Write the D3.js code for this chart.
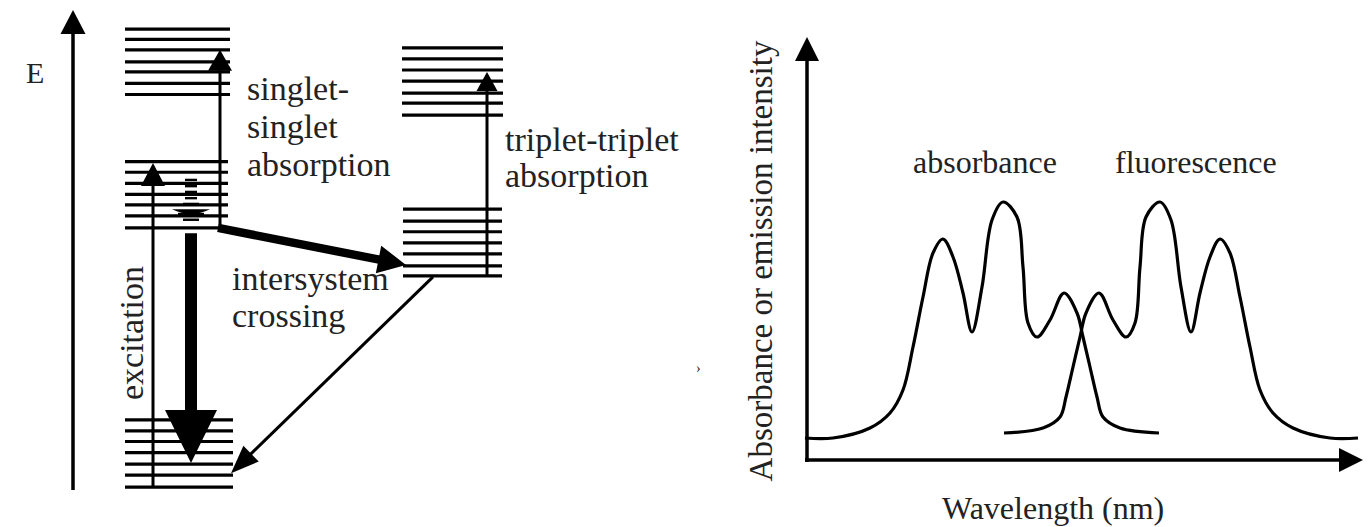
<!DOCTYPE html>
<html>
<head>
<meta charset="utf-8">
<script src="https://cdn.jsdelivr.net/npm/d3@7"></script>
<style>
  body { margin: 0; background: #fff; }
  svg { display: block; }
</style>
</head>
<body>
<div id="chart"></div>
<script>
// ---- Jablonski diagram: energy levels (arbitrary energy units, 0 = foot of the E axis)
var s0Levels = [14.6, 12.3, 10.1, 7.8, 5.4, 3.1, 0.6];
var s1Levels = [68.4, 66.2, 63.9, 61.6, 59.4, 57.1, 54.6];
var s2Levels = [96.0, 93.9, 91.7, 89.2, 87.1, 84.7, 82.4];
var t1Levels = [58.5, 56.0, 53.8, 51.5, 49.2, 46.7, 44.6];
var t2Levels = [92.1, 89.8, 87.5, 85.2, 82.7, 80.6, 78.1];

// vibrational relaxation ladder inside S1 (energy, relative width)
var relaxEnergy = [64.6, 63.3, 62.1, 60.8, 59.6, 57.5, 56.3];
var relaxWidth  = [0.6, 0.6, 0.6, 0.6, 0.8, 1.3, 0.8];
var relaxBowl = 58.5;

// transitions: start / end energy
var excitation   = [0.6, 68.1];
var ssAbsorption = [54.6, 91.7];
var ttAbsorption = [44.6, 87.1];
var fluorescence = [53.5, 5.6];
var iscCrossing  = [54.6, 46.9];
var phosphor     = [44.4, 3.5];

// ---- Spectrum (arbitrary wavelength / intensity units)
var absWl  = [-0.4, 5.2, 12.6, 16.6, 19.2, 21.2, 23.2, 25.2, 27.2, 29.2, 31.2, 33, 35, 37, 39.2, 42, 43.2, 44.2, 46, 48.6, 51.4, 54, 55.2, 56.6, 58, 59.2, 62.6, 70.4];
var absVal = [5.5, 5.5, 8, 11.75, 17.5, 28.25, 40.75, 51.75, 55.25, 50.75, 41.75, 32, 43.25, 60, 64.5, 60.75, 48.25, 34.25, 30.75, 35, 41.75, 36.75, 30.75, 23.25, 15.75, 10.75, 8, 6.75];
var fluWl  = [39.4, 47.2, 50.6, 51.8, 53.2, 54.6, 55.8, 58.4, 61.2, 63.8, 65.6, 66.6, 67.8, 70.6, 72.8, 74.8, 76.8, 78.6, 80.6, 82.6, 84.6, 86.6, 88.6, 90.6, 93.2, 97.2, 104.6, 110.2];
var fluVal = [6.75, 8, 10.75, 15.75, 23.25, 30.75, 36.75, 41.75, 35, 30.75, 34.25, 48.25, 60.75, 64.5, 60, 43.25, 32, 41.75, 50.75, 55.25, 51.75, 40.75, 28.25, 17.5, 11.75, 8, 5.5, 5.5];

var width = 1369, height = 527;
var svg = d3.select('#chart').append('svg')
  .attr('width', width)
  .attr('height', height)
  .attr('font-family', '"Liberation Serif", "Times New Roman", Times, "DejaVu Serif", serif');

// arrowhead triangle, tip at [x2,y2], pointing away from [x1,y1]
function headPath(x1, y1, x2, y2, len, half) {
  var dx = x2 - x1, dy = y2 - y1;
  var d = Math.sqrt(dx * dx + dy * dy);
  var ux = dx / d, uy = dy / d;
  var bx = x2 - ux * len, by = y2 - uy * len;
  return 'M' + x2 + ',' + y2 +
    'L' + (bx - uy * half) + ',' + (by + ux * half) +
    'L' + (bx + uy * half) + ',' + (by - ux * half) + 'Z';
}

function arrow(g, x1, y1, x2, y2, sw, len, half) {
  var dx = x2 - x1, dy = y2 - y1;
  var d = Math.sqrt(dx * dx + dy * dy);
  g.append('line')
    .attr('x1', x1).attr('y1', y1)
    .attr('x2', x2 - dx / d * (len - 2)).attr('y2', y2 - dy / d * (len - 2))
    .attr('stroke', '#000').attr('stroke-width', sw);
  g.append('path').attr('d', headPath(x1, y1, x2, y2, len, half)).attr('fill', '#000');
}

// ================= left: Jablonski diagram =================
var jab = svg.append('g').attr('class', 'jablonski');
var yE = d3.scaleLinear().domain([0, 100]).range([490, 10]);

// energy axis
arrow(jab, 73, yE(0), 73, yE(100), 3.5, 24, 12.5);
jab.append('text').attr('x', 26).attr('y', 83).attr('font-size', 30).attr('fill', '#222').text('E');

function levels(cls, data, x0, x1) {
  jab.append('g').attr('class', cls)
    .selectAll('line')
    .data(data)
    .enter()
    .append('line')
    .attr('x1', x0).attr('x2', x1)
    .attr('y1', function (d) { return yE(d); })
    .attr('y2', function (d) { return yE(d); })
    .attr('stroke', '#000')
    .attr('stroke-width', 3.2);
}
levels('s0', s0Levels, 125, 233);
levels('s1', s1Levels, 125, 228);
levels('s2', s2Levels, 125, 230);
levels('t1', t1Levels, 403, 502);
levels('t2', t2Levels, 402, 503);

// vibrational relaxation ladder
var relaxX = 191;
jab.append('g').attr('class', 'relax')
  .selectAll('line')
  .data(relaxEnergy)
  .enter()
  .append('line')
  .attr('x1', function (d, i) { return relaxX - 10 * relaxWidth[i]; })
  .attr('x2', function (d, i) { return relaxX + 10 * relaxWidth[i]; })
  .attr('y1', function (d) { return yE(d); })
  .attr('y2', function (d) { return yE(d); })
  .attr('stroke', '#000').attr('stroke-width', 2.4);
jab.append('path')
  .attr('d', 'M' + (relaxX - 19) + ',' + yE(relaxBowl) +
    'Q' + relaxX + ',' + (yE(relaxBowl) + 9) + ' ' + (relaxX + 19) + ',' + yE(relaxBowl) + 'Z')
  .attr('fill', '#000');

// excitation (thin, up)
arrow(jab, 153, yE(excitation[0]), 153, yE(excitation[1]), 3, 23, 12);
// singlet-singlet absorption
arrow(jab, 220, yE(ssAbsorption[0]), 220, yE(ssAbsorption[1]), 3, 21, 12);
// triplet-triplet absorption
arrow(jab, 487, yE(ttAbsorption[0]), 487, yE(ttAbsorption[1]), 3, 19, 10.5);
// fluorescence (thick, down)
(function () {
  var yTop = yE(fluorescence[0]), yTip = yE(fluorescence[1]);
  var hl = 53, sh = 6, hh = 26, cx = 191;
  jab.append('path')
    .attr('d', 'M' + (cx - sh) + ',' + yTop + 'L' + (cx + sh) + ',' + yTop +
      'L' + (cx + sh) + ',' + (yTip - hl) + 'L' + (cx + hh) + ',' + (yTip - hl) +
      'L' + cx + ',' + yTip + 'L' + (cx - hh) + ',' + (yTip - hl) +
      'L' + (cx - sh) + ',' + (yTip - hl) + 'Z')
    .attr('fill', '#000');
})();
// intersystem crossing (thick)
arrow(jab, 218, yE(iscCrossing[0]), 406, yE(iscCrossing[1]), 8.5, 28, 14);
// phosphorescence path (thin, to S0)
arrow(jab, 433, yE(phosphor[0]), 231, yE(phosphor[1]), 3, 28, 11);

var leftLabels = [
  { t: 'singlet-', x: 247, y: 100 },
  { t: 'singlet', x: 247, y: 138 },
  { t: 'absorption', x: 247, y: 176 },
  { t: 'triplet-triplet', x: 505, y: 151 },
  { t: 'absorption', x: 505, y: 187 },
  { t: 'intersystem', x: 232, y: 290 },
  { t: 'crossing', x: 232, y: 327 }
];
jab.append('g').selectAll('text')
  .data(leftLabels)
  .enter()
  .append('text')
  .attr('x', function (d) { return d.x; })
  .attr('y', function (d) { return d.y; })
  .attr('font-size', 34)
  .attr('fill', '#222')
  .text(function (d) { return d.t; });
jab.append('text')
  .attr('transform', 'translate(143,' + 333 + ') rotate(-90)')
  .attr('text-anchor', 'middle')
  .attr('font-size', 34)
  .attr('fill', '#222')
  .text('excitation');

// ================= right: spectrum =================
var spec = svg.append('g').attr('class', 'spectrum');
var xW = d3.scaleLinear().domain([0, 110]).range([807, 1357]);
var yI = d3.scaleLinear().domain([0, 105]).range([460, 40]);

// axes with arrows
arrow(spec, xW(0), yI(0) + 2, xW(0), 37, 3.5, 24, 12);
arrow(spec, xW(0) - 2, yI(0), 1363, yI(0), 3.5, 24, 12);

var line = d3.line()
  .x(function (d) { return xW(d[0]); })
  .y(function (d) { return yI(d[1]); })
  .curve(d3.curveCatmullRom.alpha(0.5));

spec.append('path')
  .attr('class', 'absorbance')
  .datum(d3.zip(absWl, absVal))
  .attr('d', line)
  .attr('fill', 'none').attr('stroke', '#000').attr('stroke-width', 3.2);
spec.append('path')
  .attr('class', 'fluorescence')
  .datum(d3.zip(fluWl, fluVal))
  .attr('d', line)
  .attr('fill', 'none').attr('stroke', '#000').attr('stroke-width', 3.2);

spec.append('text').attr('x', 913).attr('y', 173).attr('font-size', 32).attr('fill', '#222').text('absorbance');
spec.append('text').attr('x', 1115).attr('y', 173).attr('font-size', 32).attr('fill', '#222').text('fluorescence');
spec.append('text').attr('x', 942).attr('y', 519).attr('font-size', 32).attr('fill', '#222').text('Wavelength (nm)');
spec.append('text')
  .attr('transform', 'translate(772,261) rotate(-90)')
  .attr('text-anchor', 'middle')
  .attr('font-size', 33)
  .attr('fill', '#222')
  .text('Absorbance or emission intensity');
spec.append('text').attr('x', 696).attr('y', 373).attr('font-size', 14).attr('fill', '#222').text('›');
</script>
</body>
</html>
